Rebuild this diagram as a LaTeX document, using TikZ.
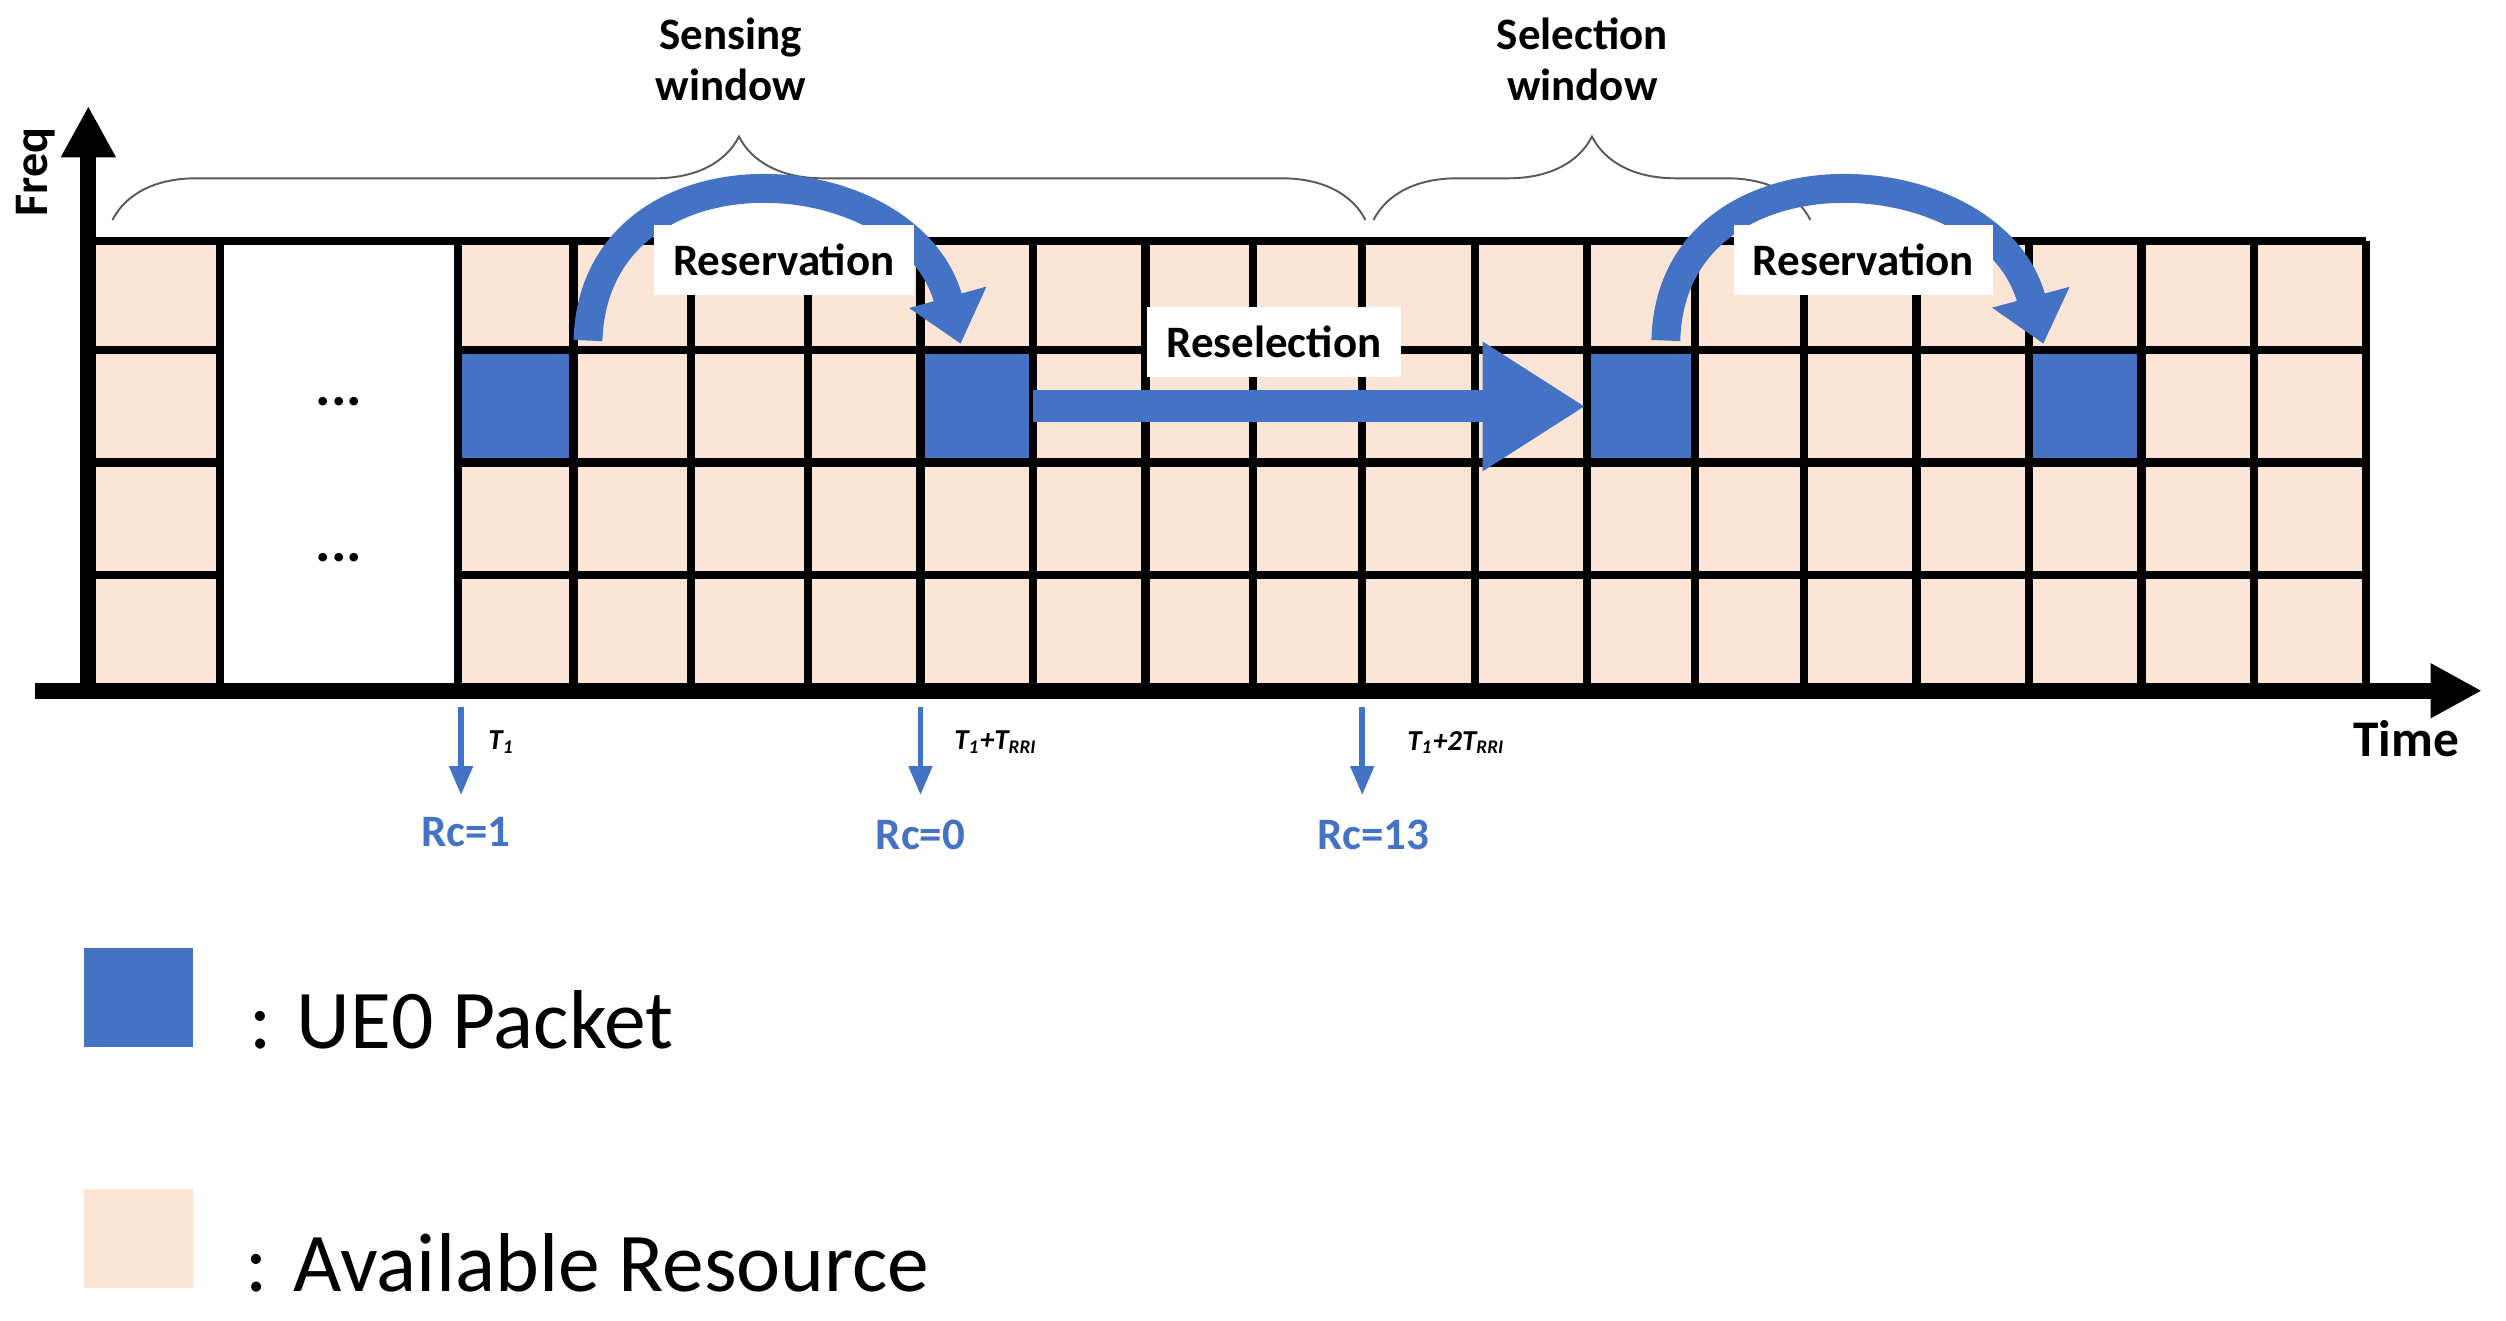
\documentclass[tikz,border=0pt]{standalone}
\usepackage{fontspec}
\setmainfont{Carlito}
\usetikzlibrary{arrows.meta,decorations.pathreplacing}
\definecolor{peach}{HTML}{FBE5D6}
\definecolor{ublue}{HTML}{4472C4}
\definecolor{dblue}{HTML}{2F5597}
\begin{document}
\begin{tikzpicture}[x=0.5pt,y=-0.5pt,
  grid/.style={line width=2.6pt,draw=black},
  pk/.style={fill=ublue},
  lab/.style={fill=white,font=\bfseries\fontsize{14}{15}\selectfont,inner sep=6pt},
  fat/.style={draw=ublue,line width=9pt,-{Triangle[width=24pt,length=15pt]}},
  dn/.style={draw=ublue,line width=1.8pt,-{Triangle[width=7pt,length=9pt]}},
  rc/.style={text=ublue,font=\bfseries\fontsize{14}{15}\selectfont},
  tl/.style={font=\bfseries\itshape\fontsize{9}{10}\selectfont,anchor=west},
  br/.style={decorate,decoration={brace,amplitude=26pt},draw=gray!70!black,line width=0.6pt}]
\useasboundingbox (0,0) rectangle (1560,822);
\fill[peach] (55,150) rectangle (1473,428);
\fill[white] (137,150) rectangle (285,428);
\fill[pk] (285,218) rectangle (357,288);
\fill[pk] (573,218) rectangle (643,288);
\fill[pk] (988,218) rectangle (1055,288);
\fill[pk] (1263,218) rectangle (1333,288);
\foreach \x in {55,137,285,357,430,503,573,643,713,780,848,918,988,1055,1123,1193,1263,1333,1403,1473}
  \draw[grid] (\x,150) -- (\x,428);
\foreach \y in {150,428} \draw[grid] (55,\y) -- (1473,\y);
\foreach \y in {218,288,358} {\draw[grid] (55,\y) -- (137,\y); \draw[grid] (285,\y) -- (1473,\y);}
\node[font=\bfseries\fontsize{18}{18}\selectfont] (d1) at (211,250) {...};
\node[font=\bfseries\fontsize{18}{18}\selectfont] (d2) at (211,347) {...};
\coordinate (o) at (55,430);
\coordinate (fy) at (55,66);
\coordinate (tx) at (1545,430);
\coordinate (ox) at (22,430);
\draw[line width=5pt,-{Triangle[width=16pt,length=16pt]}] (o) -- (fy);
\draw[line width=5pt,-{Triangle[width=16pt,length=16pt]}] (ox) -- (tx);
\node[rotate=90,font=\bfseries\fontsize{15}{15}\selectfont] (freq) at (22,107) {Freq};
\node[font=\bfseries\fontsize{16}{16}\selectfont] (time) at (1498,460) {Time};
\coordinate (b1) at (70,137); \coordinate (b2) at (850,137);
\coordinate (b3) at (855,137); \coordinate (b4) at (1127,137);
\draw[br] (b1) -- (b2);
\draw[br] (b3) -- (b4);
\node[font=\bfseries\fontsize{14}{16}\selectfont,align=center] (sw) at (455,37) {Sensing\\window};
\node[font=\bfseries\fontsize{14}{16}\selectfont,align=center] (selw) at (985,37) {Selection\\window};
\coordinate (c1s) at (366,212); \coordinate (c1e) at (598,214);
\coordinate (c2s) at (1037,212); \coordinate (c2e) at (1272,214);
\draw[fat] (c1s) .. controls (370,85) and (565,95) .. (c1e);
\draw[fat] (c2s) .. controls (1040,85) and (1240,95) .. (c2e);
\node[lab] (r1) at (488,162) {Reservation};
\node[lab] (r2) at (1160,162) {Reservation};
\coordinate (rs) at (643,253); \coordinate (re) at (987,253);
\draw[draw=ublue,line width=10pt,-{Triangle[width=38pt,length=32pt]}] (rs) -- (re);
\node[lab] (rsl) at (793,213) {Reselection};
\coordinate (a1) at (287,440); \coordinate (a1e) at (287,495);
\coordinate (a2) at (573,440); \coordinate (a2e) at (573,495);
\coordinate (a3) at (848,440); \coordinate (a3e) at (848,495);
\draw[dn] (a1) -- (a1e); \draw[dn] (a2) -- (a2e); \draw[dn] (a3) -- (a3e);
\node[tl] (t1) at (297,462) {T\textsubscript{1}};
\node[tl] (t2) at (587,462) {T\textsubscript{1}+T\textsubscript{RRI}};
\node[tl] (t3) at (869,462) {T\textsubscript{1}+2T\textsubscript{RRI}};
\node[rc] (rc1) at (290,518) {Rc=1};
\node[rc] (rc2) at (573,520) {Rc=0};
\node[rc] (rc3) at (855,520) {Rc=13};
\fill[ublue] (52,590) rectangle (120,652);
\fill[peach] (52,740) rectangle (120,802);
\node[anchor=west,font=\fontsize{26}{27}\selectfont] (l1) at (148,635) {: UE0 Packet};
\node[anchor=west,font=\fontsize{26}{27}\selectfont] (l2) at (146,786) {: Available Resource};
\end{tikzpicture}
\end{document}
